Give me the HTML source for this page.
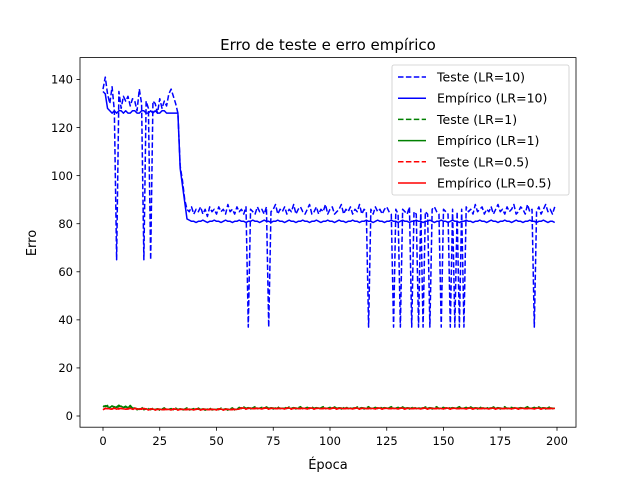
<!DOCTYPE html>
<html><head><meta charset="utf-8"><style>
body{margin:0;background:#fff;}
text{font-family:"DejaVu Sans","Liberation Sans",sans-serif;}
</style></head><body>
<svg id="c" width="640" height="480" xmlns="http://www.w3.org/2000/svg">
<rect width="640" height="480" fill="#fff"/>
<text x="328" y="50" font-size="15" text-anchor="middle">Erro de teste e erro empírico</text>
<text x="328" y="469" font-size="13" text-anchor="middle">Época</text>
<text x="36" y="243" font-size="13" text-anchor="middle" transform="rotate(-90 36 243)">Erro</text>
<g id="ticks"></g>
<g id="marks"></g>
<rect x="80" y="57.6" width="496" height="369.6" fill="none" stroke="#000" stroke-width="0.8"/>
<g id="legend"></g>
</svg>
<script>
const xTicks=[0,25,50,75,100,125,150,175,200];
const yTicks=[0,20,40,60,80,100,120,140];
const test10=[136,141,134,130,137,127,65,135,128,133,131,133,129,132,131,127,136,130,65,131,128,65,131,130,126,132,128,131,129,134,136,133,130,126,
104,98,90,86,85,87,
84,86,85,87,84,86,83,87,85,86,
84,87,85,86,84,88,85,86,84,87,
85,86,84,87,37,86,85,84,87,85,
86,84,87,37,85,86,88,84,86,85,
87,84,86,85,88,84,86,87,85,84,
86,88,84,85,87,84,86,85,88,84,
86,87,84,85,86,88,84,86,85,87,
84,86,85,88,84,86,85,37,86,84,
87,85,86,84,86,87,85,84,37,86,
84,37,86,85,84,87,37,85,84,37,
86,37,85,84,37,86,87,85,84,37,
86,85,84,37,86,37,85,37,86,37,
87,85,86,84,88,85,86,87,84,86,
85,87,84,86,88,85,86,84,87,85,
86,88,84,85,87,86,84,88,85,86,
37,85,87,84,86,88,85,86,84,87];
const emp10=[135,134,128,127,126,127,126,127,127,126,127,126,126,127,127,126,126,127,127,126,126,127,126,127,126,126,127,127,126,126,126,126,126,126,
103,96,89,82,81.5,81,
81,80.5,81,81,81.5,81,80.5,81,81,81.5,
81,81,80.5,81,81.5,81,81,80.5,81,81,
81.5,81,81,80.5,81,81,81.5,81,81,80.5,
81,81.5,81,81,80.5,81,81,81.5,81,81,
80.5,81,81.5,81,81,80.5,81,81,81.5,81,
81,80.5,81,81,81.5,81,80.5,81,81,81.5,
81,81,80.5,81,81.5,81,81,80.5,81,81,
81.5,81,81,80.5,81,81,81.5,81,81,80.5,
81,81.5,81,81,80.5,81,81,81.5,81,81,
80.5,81,81.5,81,81,80.5,81,81,81.5,81,
81,80.5,81,81,81.5,81,80.5,81,81,81.5,
81,81,80.5,81,81.5,81,81,80.5,81,81,
81.5,81,81,80.5,81,81,81.5,81,81,80.5,
81,81.5,81,81,80.5,81,81,81.5,81,81,
80.5,81,81.5,81,81,80.5,81,81,81.5,81,
81,80.5,81,81,81.5,81,80.5,81,81,80.5];
const base1=[3.8,4.2,3.9,3.6,4.0,3.8,3.7,3.9,4.1,3.6,3.8,3.5,3.9,3.4,3.2,3.0,2.9,3.1,2.9,3.0];
const base05=[2.8,3.0,2.9,3.1,2.8,3.2,2.9,3.0,3.1,2.9,3.0,2.8,3.0,2.9,3.1,2.8,3.0,2.9,3.0,2.9];
const test1=[],emp1=[],test05=[],emp05=[];
const noiseA=[0.3,-0.2,0.5,-0.1,0.2,-0.4,0.1,0.6,-0.3,0.0];
const noiseB=[-0.1,0.2,0.0,-0.2,0.3,0.1,-0.3,0.2,0.0,-0.1];
for(let i=0;i<200;i++){
  const b1=i<20?base1[i]:(i<60?2.8:3.3);
  const b5=i<20?base05[i]:(i<60?2.7:3.1);
  test1.push(b1+noiseA[i%10]); emp1.push(b1+noiseB[i%10]*0.5);
  test05.push(b5+noiseB[(i+3)%10]); emp05.push(b5+noiseA[(i+5)%10]*0.4);
}
const NS="http://www.w3.org/2000/svg";
const X=v=>103+(v)*(557-103)/200;
const Y=v=>416-v*(416-79.5)/140;
const tg=document.getElementById('ticks');
function mk(tag,attrs,parent){const e=document.createElementNS(NS,tag);for(const k in attrs)e.setAttribute(k,attrs[k]);parent.appendChild(e);return e;}
xTicks.forEach(t=>{
  const l=mk('line',{x1:X(t),x2:X(t),y1:427.2,y2:430.7,stroke:'#000','stroke-width':0.8},tg);
  
  
  const tx=mk('text',{x:X(t),y:445,'font-size':11.5,'text-anchor':'middle'},tg);tx.textContent=t;
  
  
});
yTicks.forEach(t=>{
  const l=mk('line',{x1:76.5,x2:80,y1:Y(t),y2:Y(t),stroke:'#000','stroke-width':0.8},tg);
  
  
  const tx=mk('text',{x:73,y:Y(t)+4.2,'font-size':11.5,'text-anchor':'end'},tg);tx.textContent=t;
  
  
});
const series=[
 {d:test10,c:'#0000ff',dash:true,n:'Teste (LR=10)',id:'test-lr10'},
 {d:emp10,c:'#0000ff',dash:false,n:'Empírico (LR=10)',id:'empirical-lr10'},
 {d:test1,c:'#008000',dash:true,n:'Teste (LR=1)',id:'test-lr1'},
 {d:emp1,c:'#008000',dash:false,n:'Empírico (LR=1)',id:'empirical-lr1'},
 {d:test05,c:'#ff0000',dash:true,n:'Teste (LR=0.5)',id:'test-lr05'},
 {d:emp05,c:'#ff0000',dash:false,n:'Empírico (LR=0.5)',id:'empirical-lr05'}];
const mg=document.getElementById('marks');
series.forEach(s=>{
  const pts=s.d.map((v,i)=>X(i).toFixed(2)+','+Y(v).toFixed(2)).join(' ');
  const p=mk('polyline',{points:pts,fill:'none',stroke:s.c,'stroke-width':1.5,'stroke-dasharray':s.dash?'5.5,2.4':'none','stroke-linejoin':'round'},mg);
  
  
});
const lg=document.getElementById('legend');
mk('rect',{x:392,y:65,width:177,height:130,rx:2,fill:'#fff','fill-opacity':0.8,stroke:'#ccc','stroke-width':0.8},lg);
series.forEach((s,i)=>{
  const y=77+i*21.2;
  const l=mk('line',{x1:398,x2:426,y1:y,y2:y,stroke:s.c,'stroke-width':1.5,'stroke-dasharray':s.dash?'5.5,2.4':'none'},lg);
  
  
  const t=mk('text',{x:437,y:y+4.5,'font-size':12.5},lg);t.textContent=s.n;
  
  
});
</script>
</body></html>
